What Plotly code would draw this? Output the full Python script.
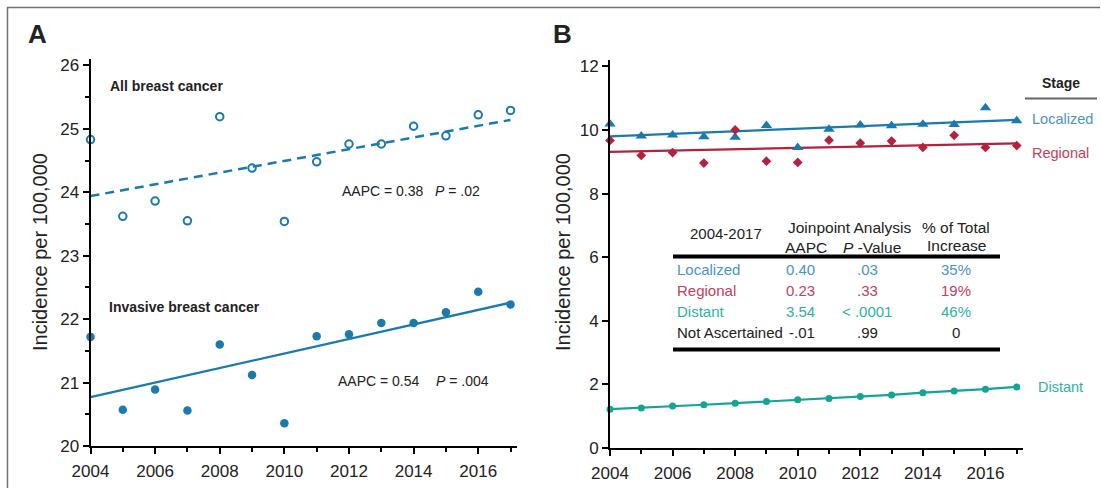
import plotly.graph_objects as go

# ---------------- data ----------------
years = list(range(2004, 2018))

# Panel A
all_bc = [24.83, 23.62, 23.86, 23.55, 25.19, 24.38, 23.54, 24.48, 24.76, 24.76, 25.04, 24.89, 25.22, 25.29]
invasive = [21.72, 20.57, 20.89, 20.56, 21.60, 21.12, 20.36, 21.73, 21.76, 21.94, 21.94, 22.11, 22.43, 22.23]
trend_years = [2004, 2017]
all_trend = [23.94, 25.14]
inv_trend = [20.77, 22.26]

# Panel B
localized = [10.19, 9.81, 9.84, 9.79, 9.77, 10.14, 9.45, 10.02, 10.16, 10.13, 10.18, 10.17, 10.70, 10.29]
regional = [9.67, 9.20, 9.29, 8.96, 10.00, 9.02, 8.98, 9.68, 9.59, 9.65, 9.45, 9.83, 9.45, 9.51]
distant = [1.22, 1.26, 1.32, 1.36, 1.41, 1.46, 1.52, 1.56, 1.62, 1.67, 1.74, 1.79, 1.85, 1.92]
loc_trend = [9.80, 10.32]
reg_trend = [9.31, 9.58]

# Table
table_stages = ["Localized", "Regional", "Distant", "Not Ascertained"]
table_aapc = ["0.40", "0.23", "3.54", "-.01"]
table_p = [".03", ".33", "< .0001", ".99"]
table_pct = ["35%", "19%", "46%", "0"]

# ---------------- style ----------------
W, H = 1101, 488
FONT = "Liberation Sans, Arial, sans-serif"
BLUE = "#1a7aad"
RED = "#b4213f"
TEAL = "#12a594"
T_BLUE = "#4b94c4"
T_RED = "#c4405c"
T_TEAL = "#2db39f"
TXT = "#222222"


def px(x):
    return x / W


def py(y):
    return 1 - y / H


fig = go.Figure()

# Panel A traces
fig.add_trace(go.Scatter(x=trend_years, y=all_trend, mode="lines",
                         line=dict(color=BLUE, width=2.5, dash="9px,6px"),
                         xaxis="x", yaxis="y", showlegend=False, hoverinfo="skip"))
fig.add_trace(go.Scatter(x=years, y=all_bc, mode="markers",
                         marker=dict(symbol="circle-open", size=7.5, color=BLUE, line=dict(width=2, color=BLUE)),
                         xaxis="x", yaxis="y", showlegend=False, cliponaxis=False))
fig.add_trace(go.Scatter(x=trend_years, y=inv_trend, mode="lines",
                         line=dict(color=BLUE, width=2.3),
                         xaxis="x", yaxis="y", showlegend=False, hoverinfo="skip"))
fig.add_trace(go.Scatter(x=years, y=invasive, mode="markers",
                         marker=dict(symbol="circle", size=8.5, color=BLUE),
                         xaxis="x", yaxis="y", showlegend=False, cliponaxis=False))

# Panel B traces
fig.add_trace(go.Scatter(x=trend_years, y=loc_trend, mode="lines",
                         line=dict(color=BLUE, width=2.2),
                         xaxis="x2", yaxis="y2", showlegend=False, hoverinfo="skip"))
fig.add_trace(go.Scatter(x=trend_years, y=reg_trend, mode="lines",
                         line=dict(color=RED, width=2.2),
                         xaxis="x2", yaxis="y2", showlegend=False, hoverinfo="skip"))
fig.add_trace(go.Scatter(x=years, y=localized, mode="markers",
                         marker=dict(symbol="triangle-up", size=10, color=BLUE),
                         xaxis="x2", yaxis="y2", showlegend=False, cliponaxis=False))
fig.add_trace(go.Scatter(x=years, y=regional, mode="markers",
                         marker=dict(symbol="diamond", size=7.5, color=RED),
                         xaxis="x2", yaxis="y2", showlegend=False, cliponaxis=False))
fig.add_trace(go.Scatter(x=years, y=distant, mode="lines+markers",
                         line=dict(color=TEAL, width=2.2),
                         marker=dict(symbol="circle", size=7, color=TEAL),
                         xaxis="x2", yaxis="y2", showlegend=False, cliponaxis=False))

axis_common = dict(showline=True, linewidth=2, linecolor="black", ticks="outside",
                   ticklen=6, tickwidth=1.5, tickcolor="black", showgrid=False,
                   zeroline=False, automargin=False,
                   tickfont=dict(family=FONT, size=17, color=TXT))

fig.update_layout(
    width=W, height=H,
    margin=dict(l=0, r=0, t=0, b=0, pad=0, autoexpand=False),
    paper_bgcolor="white", plot_bgcolor="white",
    font=dict(family=FONT, color=TXT),
    xaxis=dict(domain=[px(90.5), px(517)], range=[2004, 2017.2], dtick=2, tick0=2004,
               anchor="y", minor=dict(dtick=1, ticks="outside", ticklen=4, tickwidth=1.5, tickcolor="black"),
               ticklabelstandoff=3, **axis_common),
    yaxis=dict(domain=[py(446), py(59)], range=[20, 26.1], dtick=1, anchor="x",
               minor=dict(dtick=0.5, ticks="outside", ticklen=4, tickwidth=1.5, tickcolor="black"),
               **axis_common),
    xaxis2=dict(domain=[px(610), px(1023)], range=[2004, 2017.2], dtick=2, tick0=2004,
                anchor="y2", minor=dict(dtick=1, ticks="outside", ticklen=4, tickwidth=1.5, tickcolor="black"),
                ticklabelstandoff=3, **axis_common),
    yaxis2=dict(domain=[py(448), py(60)], range=[0, 12.2], dtick=2, anchor="x2",
                **axis_common),
)

ann = []


def add_text(x, y, text, size=14, color=TXT, xanchor="left", bold=False, angle=0):
    t = f"<b>{text}</b>" if bold else text
    ann.append(dict(x=px(x), y=py(y), xref="paper", yref="paper", text=t, showarrow=False,
                    xanchor=xanchor, yanchor="middle", textangle=angle,
                    font=dict(family=FONT, size=size, color=color)))


# Panel labels
add_text(26, 34, "A", size=26, bold=True)
add_text(551, 34, "B", size=26, bold=True)

# Axis titles
add_text(40, 252, "Incidence per 100,000", size=20, xanchor="center", angle=-90)
add_text(563, 252, "Incidence per 100,000", size=20, xanchor="center", angle=-90)

# Panel A annotations
add_text(108, 86, "All breast cancer", size=14, bold=True)
add_text(340, 191, "AAPC = 0.38", size=14)
add_text(433, 191, "<i>P</i> = .02", size=14)
add_text(107, 307, "Invasive breast cancer", size=14, bold=True)
add_text(336, 381, "AAPC = 0.54", size=14)
add_text(434, 381, "<i>P</i> = .004", size=14)

# Panel B stage labels
add_text(1061, 83, "Stage", size=14, bold=True, xanchor="center")
add_text(1030, 119, "Localized", size=14.5, color=T_BLUE)
add_text(1030, 153, "Regional", size=14.5, color=T_RED)
add_text(1036, 387, "Distant", size=14.5, color=T_TEAL)

# Table header
HS = 15.5
add_text(726, 233, "2004-2017", size=15, xanchor="center")
add_text(849, 227, "Joinpoint Analysis", size=HS, xanchor="center")
add_text(956, 227, "% of Total", size=HS, xanchor="center")
add_text(806, 247, "AAPC", size=HS, xanchor="center")
add_text(872, 247, "<i>P</i> -Value", size=HS, xanchor="center")
add_text(956, 245, "Increase", size=HS, xanchor="center")

row_y = [269, 290, 311, 332]
row_colors = [T_BLUE, T_RED, T_TEAL, TXT]
RS = 15
for i in range(len(table_stages)):
    add_text(675, row_y[i], table_stages[i], size=RS, color=row_colors[i])
    add_text(817, row_y[i], table_aapc[i], size=RS, color=row_colors[i], xanchor="right")
    add_text(867, row_y[i], table_p[i], size=RS, color=row_colors[i], xanchor="center")
    add_text(956, row_y[i], table_pct[i], size=RS, color=row_colors[i], xanchor="center")

fig.update_layout(annotations=ann)

shapes = [
    # outer frame (top and left)
    dict(type="line", xref="paper", yref="paper", x0=px(7), x1=px(1100), y0=py(7.5), y1=py(7.5),
         line=dict(color="#707070", width=1.5)),
    dict(type="line", xref="paper", yref="paper", x0=px(7.5), x1=px(7.5), y0=py(7), y1=py(488),
         line=dict(color="#707070", width=1.5)),
    # stage header rule
    dict(type="line", xref="paper", yref="paper", x0=px(1025), x1=px(1097), y0=py(98.5), y1=py(98.5),
         line=dict(color="#666666", width=2)),
    # table rules
    dict(type="line", xref="paper", yref="paper", x0=px(673), x1=px(1000), y0=py(256.5), y1=py(256.5),
         line=dict(color="black", width=4)),
    dict(type="line", xref="paper", yref="paper", x0=px(673), x1=px(1000), y0=py(349.5), y1=py(349.5),
         line=dict(color="black", width=4)),
]
fig.update_layout(shapes=shapes)

fig.write_html("out.html", config={"displayModeBar": False},
               post_script="document.body.style.margin='0px';")
